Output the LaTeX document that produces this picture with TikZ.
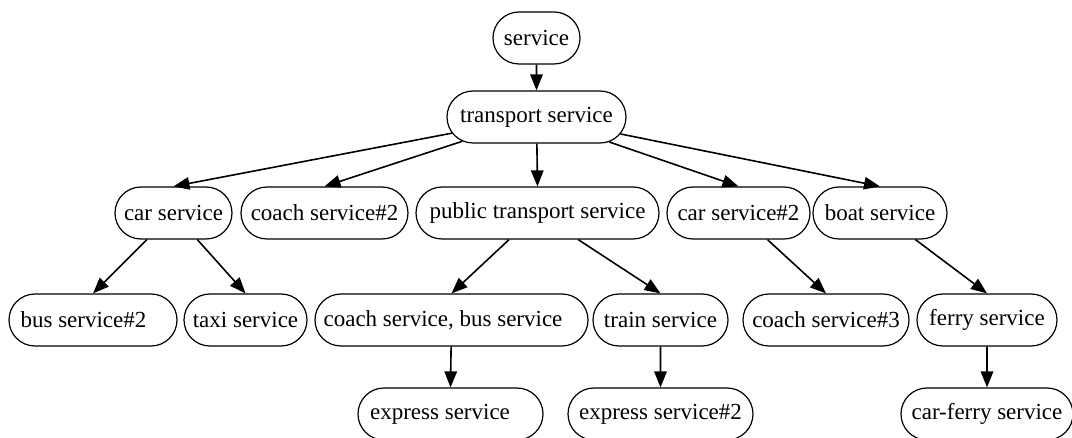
\documentclass[tikz,border=0pt]{standalone}
\usepackage{fontspec}
\setmainfont{Liberation Serif}
\usetikzlibrary{shapes.misc,arrows.meta}
\tikzset{
  box/.style={rounded rectangle, draw, line width=1.2pt, minimum height=52pt,
    inner xsep=0pt, inner ysep=0pt, minimum width=#1,
    font=\fontsize{23}{27}\selectfont},
  edge/.style={-{Triangle[length=16pt,width=12.5pt]}, line width=1.6pt}
}
\begin{document}
\begin{tikzpicture}[x=1pt,y=-1pt]
\useasboundingbox[fill=white] (0,0) rectangle (1072,438);
% rank 1-2
\node[box=87pt]  (sv) at (536.5,38)  {service};
\node[box=179pt] (ts) at (536.5,117) {transport service};
% rank 3
\node[box=117pt] (cs)  at (173.5,213) {car service};
\node[box=167pt] (co2) at (324.5,213) {coach service\#2};
\node[box=243pt] (pt)  at (537.5,213) {public transport service};
\node[box=143pt] (cs2) at (738.5,213) {car service\#2};
\node[box=134pt] (bs)  at (880,213)   {boat service};
% rank 4
\node[box=168pt] (bu2) at (93,320)    {bus service\#2\hspace*{19pt}};
\node[box=123pt] (tx)  at (245.5,320) {taxi service};
\node[box=273pt] (cb)  at (451.5,320) {coach service, bus service\hspace*{17pt}};
\node[box=135pt] (tr)  at (660.5,320) {train service};
\node[box=166pt] (co3) at (826,320)   {coach service\#3};
\node[box=140pt] (fs)  at (987,320)   {ferry service};
% rank 5
\node[box=185pt] (ex)  at (450.5,414) {express service\hspace*{21pt}};
\node[box=185pt] (ex2) at (660.5,414) {express service\#2};
\node[box=172pt] (cf)  at (987,414)   {car-ferry service};
% edges
\draw[edge] (sv) -- (ts.north);
\draw[edge] (ts) -- (cs.north);
\draw[edge] (ts) -- (co2.north);
\draw[edge] (ts) -- (pt.north);
\draw[edge] (ts) -- (cs2.north);
\draw[edge] (ts) -- (bs.north);
\draw[edge] (cs) -- (bu2.north);
\draw[edge] (cs) -- (tx.north);
\draw[edge] (pt) -- (cb.north);
\draw[edge] (pt) -- (tr.north);
\draw[edge] (cs2) -- (co3.north);
\draw[edge] (bs) -- (fs.north);
\draw[edge] (cb) -- (ex.north);
\draw[edge] (tr) -- (ex2.north);
\draw[edge] (fs) -- (cf.north);
\end{tikzpicture}
\end{document}
